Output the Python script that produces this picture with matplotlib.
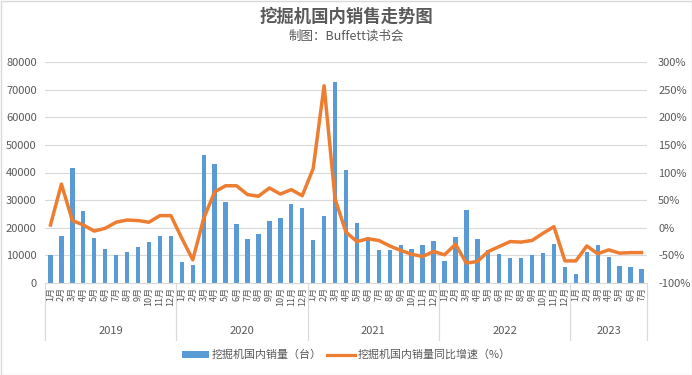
import numpy as np
import matplotlib
matplotlib.use("Agg")
import matplotlib.pyplot as plt
from matplotlib.patches import Patch, Rectangle
from matplotlib.lines import Line2D
from matplotlib.ticker import FuncFormatter
import matplotlib.transforms as mtransforms

plt.rcParams['font.family'] = ['Noto Sans CJK SC', 'DejaVu Sans']

years = ["2019", "2020", "2021", "2022", "2023"]
months_per_year = [12, 12, 12, 12, 7]
month_labels = [f"{m}月" for n in months_per_year for m in range(1, n + 1)]

sales = [
    10000, 17000, 41800, 26000, 16300, 12400, 10000, 11300, 13000, 14700, 17000, 17000,
    7700, 6600, 46400, 43000, 29400, 21300, 16000, 17700, 22300, 23600, 28700, 27000,
    15700, 24300, 72800, 41000, 21700, 16600, 12000, 12000, 13600, 12400, 13600, 15300,
    8000, 16600, 26400, 15800, 12000, 10600, 9000, 9000, 10200, 11000, 14000, 5900,
    3300, 11300, 13600, 9300, 6300, 5900, 4900,
]
yoy = [
    5, 79, 13, 5, -6, -1, 10, 14, 13, 10, 22, 22,
    -19, -58, 17, 65, 76, 76, 60, 57, 72, 61, 69, 58,
    107, 257, 52, -8, -25, -20, -23, -33, -41, -48, -52, -43,
    -49, -30, -64, -61, -43, -34, -25, -26, -23, -10, 2, -60,
    -60, -33, -47, -40, -46, -45, -45,
]

title = "挖掘机国内销售走势图"
subtitle = "制图：Buffett读书会"
bar_label = "挖掘机国内销量（台）"
line_label = "挖掘机国内销量同比增速（%）"

BLUE = "#5B9BD5"
ORANGE = "#ED7D31"
GRAY = "#595959"
GRID = "#D9D9D9"

W, H = 692, 375
fig = plt.figure(figsize=(W / 100, H / 100), dpi=100)
ax = fig.add_axes([45 / W, 1 - 283 / H, (647 - 45) / W, (283 - 62) / H])
ax2 = ax.twinx()

x = np.arange(len(sales))
ax.bar(x, sales, width=0.4, color=BLUE, zorder=2)
ax2.plot(x, yoy, color=ORANGE, lw=2.5, solid_joinstyle='round', zorder=3)

ax.set_xlim(-0.5, len(sales) - 0.5)
ax.set_ylim(0, 80000)
ax.set_yticks(np.arange(0, 80001, 10000))
ax2.set_ylim(-100, 300)
ax2.set_yticks(np.arange(-100, 301, 50))
ax2.yaxis.set_major_formatter(FuncFormatter(lambda v, p: f"{int(v)}%"))

ax.grid(axis='y', color=GRID, lw=0.8, zorder=0)
ax.set_axisbelow(True)
for a in (ax, ax2):
    for s in a.spines.values():
        s.set_visible(False)
    a.tick_params(axis='y', length=0, labelsize=8, labelcolor=GRAY, pad=6)
ax2.tick_params(axis='y', pad=8)
ax.spines['bottom'].set_visible(True)
ax.spines['bottom'].set_color(GRID)

ax.set_xticks(x)
ax.set_xticklabels(month_labels, rotation=90, fontsize=6.5, color=GRAY)
ax.tick_params(axis='x', length=0, pad=3)

# year groups
trans = mtransforms.blended_transform_factory(ax.transData, ax.transAxes)
start = 0
bounds = [-0.5]
for yr, n in zip(years, months_per_year):
    ax.text(start + (n - 1) / 2, -0.215, yr, transform=trans, ha='center', va='center',
            fontsize=8, color=GRAY)
    start += n
    bounds.append(start - 0.5)
for b in bounds:
    ax.plot([b, b], [0, -0.26], transform=trans, color=GRID, lw=0.8, clip_on=False)

fig.text(0.5, 1 - 17 / H, title, ha='center', va='center', fontsize=12.5,
         fontweight='bold', color=GRAY)
fig.text(0.5, 1 - 36 / H, subtitle, ha='center', va='center', fontsize=9, color=GRAY)

handles = [Patch(facecolor=BLUE, edgecolor='none'),
           Line2D([0], [0], color=ORANGE, lw=2.3)]
leg = fig.legend(handles, [bar_label, line_label], loc='center', ncol=2,
                 bbox_to_anchor=(0.5, 1 - 355 / H), frameon=False, fontsize=7.9,
                 handlelength=2.5, handleheight=0.5, columnspacing=0.5, handletextpad=0.25)
for t in leg.get_texts():
    t.set_color(GRAY)

fig.patches.append(Rectangle((0.5 / W, 0.5 / H), 1 - 1 / W, 1 - 1 / H, transform=fig.transFigure,
                             fill=False, edgecolor="#D9D9D9", lw=1))

fig.savefig("out.png", dpi=100, facecolor='white')
